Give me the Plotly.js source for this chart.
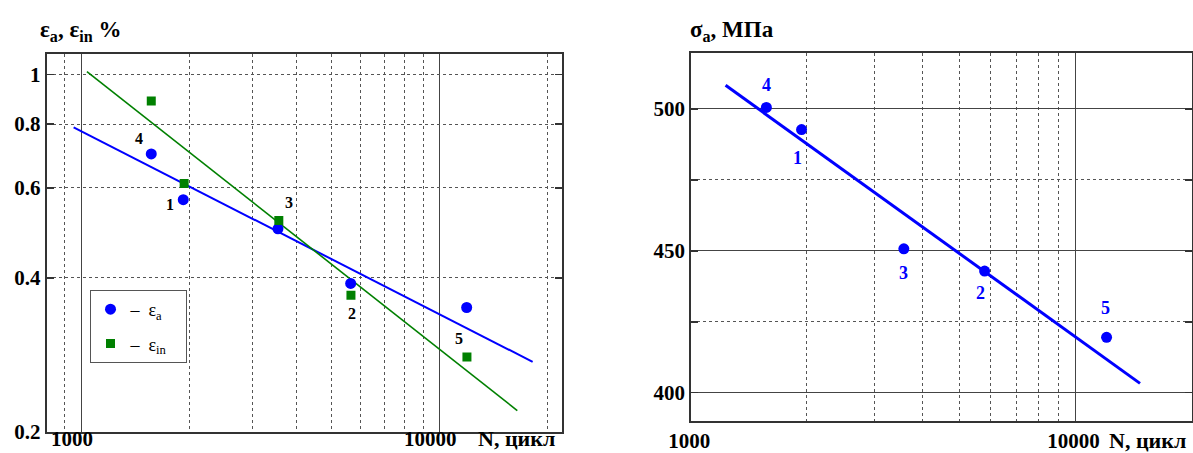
<!DOCTYPE html>
<html>
<head>
<meta charset="utf-8">
<script src="https://cdn.plot.ly/plotly-3.0.1.min.js"></script>
<style>html,body{margin:0;padding:0;background:#fff;}#chart{width:1193px;height:453px;}</style>
</head>
<body>
<div id="chart"></div>
<script>
// ---------- data (left chart: strain amplitude vs cycles) ----------
const pointLabels = ['1', '2', '3', '4', '5'];
const nEpsA = [1926, 5650, 3540, 1568, 11910];
const epsA = [0.569, 0.390, 0.499, 0.699, 0.350];
const nEpsIn = [1937, 5660, 3560, 1568, 11930];
const epsIn = [0.612, 0.370, 0.518, 0.887, 0.280];
const fitEpsAN = [952, 18200];
const fitEpsA = [0.788, 0.274];
const fitEpsInN = [1037, 16490];
const fitEpsIn = [1.013, 0.220];

// ---------- data (right chart: stress amplitude vs cycles) ----------
const nSigma = [1936, 5797, 3573, 1568, 12040];
const sigmaA = [492.7, 442.85, 450.7, 500.5, 419.5];
const fitSigmaN = [1228, 14710];
const fitSigma = [508.3, 403.3];

// ---------- tick labels ----------
const xTickVals = [1000, 10000];
const xTickText = ['1000', '10000'];
const xMinorLeft = [900, 2000, 3000, 4000, 5000, 6000, 7000, 8000, 9000, 20000];
const xMinorRight = [2000, 3000, 4000, 5000, 6000, 7000, 8000, 9000];
const yTickValsLeft = [0.2, 0.4, 0.6, 0.8, 1];
const yTickTextLeft = ['0.2', '0.4', '0.6', '0.8', '1'];
const yTickValsRight = [400, 450, 500];
const yTickTextRight = ['400', '450', '500'];
const yMinorRight = [425, 475];

// ---------- styling (label offsets in px) ----------
const leftLabelShift = [[-13, -4.6], [1.3, -30], [10.7, 26.7], [-12, 15], [-7.4, -30.7]];
const rightLabelShift = [[-4.3, -28.4], [-3.6, -22.3], [-0.8, -24], [0, 22.3], [-1.3, 29.6]];

const W = 1193, H = 453;
const SERIF = 'Liberation Serif, Times New Roman, serif';
const BLUE = '#0000ff', GREEN = '#008000';
const tickFont = {family: SERIF, size: 21, color: '#000', weight: 'bold'};
const px = v => v / W, py = v => 1 - v / H;

const traces = [
  {x: fitEpsAN, y: fitEpsA, xaxis: 'x', yaxis: 'y', mode: 'lines', line: {color: BLUE, width: 2}, showlegend: false, hoverinfo: 'skip'},
  {x: fitEpsInN, y: fitEpsIn, xaxis: 'x', yaxis: 'y', mode: 'lines', line: {color: GREEN, width: 1.6}, showlegend: false, hoverinfo: 'skip'},
  {x: nEpsA, y: epsA, xaxis: 'x', yaxis: 'y', mode: 'markers', name: '–  ε<sub>a</sub>\u00a0\u00a0\u00a0', legendgroup: 'a',
   marker: {symbol: 'circle', size: 11, color: BLUE}},
  {x: nEpsIn, y: epsIn, xaxis: 'x', yaxis: 'y', mode: 'markers', name: '–  ε<sub>in</sub>\u00a0\u00a0\u00a0', legendgroup: 'b',
   marker: {symbol: 'square', size: 9, color: GREEN}},
  {x: fitSigmaN, y: fitSigma, xaxis: 'x2', yaxis: 'y2', mode: 'lines', line: {color: BLUE, width: 3}, showlegend: false, hoverinfo: 'skip'},
  {x: nSigma, y: sigmaA, xaxis: 'x2', yaxis: 'y2', mode: 'markers', showlegend: false,
   marker: {symbol: 'circle', size: 11, color: BLUE}}
];

const annotations = [];
pointLabels.forEach((t, i) => {
  annotations.push({xref: 'x', yref: 'y', x: Math.log10(nEpsA[i]), y: Math.log10(epsA[i]), text: '<b>' + t + '</b>',
    showarrow: false, xshift: leftLabelShift[i][0], yshift: leftLabelShift[i][1],
    font: {family: SERIF, size: 16, color: '#000'}});
  annotations.push({xref: 'x2', yref: 'y2', x: Math.log10(nSigma[i]), y: sigmaA[i], text: '<b>' + t + '</b>',
    showarrow: false, xshift: rightLabelShift[i][0], yshift: rightLabelShift[i][1],
    font: {family: SERIF, size: 18, color: BLUE}});
});
// left x tick labels (placed flush with the bottom edge so they are not clipped)
xTickVals.forEach((v, i) => {
  annotations.push({xref: 'x', yref: 'paper', x: Math.log10(v), y: 0, yanchor: 'bottom', xanchor: 'center', xshift: -9,
    showarrow: false, text: xTickText[i], font: tickFont});
});
annotations.push(
  {xref: 'paper', yref: 'paper', x: px(38), y: py(31), xanchor: 'left', yanchor: 'middle', showarrow: false,
   text: '<b>ε<sub>a</sub>, ε<sub>in</sub> %</b>', font: {family: SERIF, size: 23, color: '#000'}},
  {xref: 'paper', yref: 'paper', x: px(688), y: py(31), xanchor: 'left', yanchor: 'middle', showarrow: false,
   text: '<b>σ<sub>a</sub>, МПа</b>', font: {family: SERIF, size: 23, color: '#000'}},
  {xref: 'paper', yref: 'paper', x: px(516), y: 0, xanchor: 'center', yanchor: 'bottom', showarrow: false,
   text: '<b>N, цикл</b>', font: {family: SERIF, size: 22, color: '#000'}},
  {xref: 'paper', yref: 'paper', x: px(1147), y: py(440), xanchor: 'center', yanchor: 'middle', showarrow: false,
   text: '<b>N, цикл</b>', font: {family: SERIF, size: 22, color: '#000'}}
);

const frame = {showline: true, mirror: true, linecolor: '#333', linewidth: 2, zeroline: false, tickfont: tickFont};
const dotGrid = {showgrid: true, griddash: 'dot', gridcolor: '#555', gridwidth: 1};

const layout = {
  width: W, height: H, margin: {l: 0, r: 0, t: 0, b: 0},
  paper_bgcolor: '#fff', plot_bgcolor: '#fff',
  showlegend: true,
  legend: {x: px(89.5), y: py(290), xanchor: 'left', yanchor: 'top', bgcolor: '#fff', bordercolor: '#555', borderwidth: 1,
    font: {family: SERIF, size: 18, color: '#000'}, traceorder: 'grouped', tracegroupgap: 8},
  xaxis: Object.assign({}, frame, {type: 'log', domain: [px(46.7), px(561.7)], range: [2.9034, 4.3412], anchor: 'y',
    tickmode: 'array', tickvals: xTickVals, ticktext: xTickText, ticks: '', showticklabels: false,
    showgrid: true, gridcolor: '#444', gridwidth: 1,
    minor: Object.assign({tickmode: 'array', tickvals: xMinorLeft, ticks: ''}, dotGrid)}),
  yaxis: Object.assign({}, frame, dotGrid, {type: 'log', domain: [1 - 431.7 / H, 1 - 54 / H], range: [Math.log10(0.2), 0.0401], anchor: 'x',
    tickmode: 'array', tickvals: yTickValsLeft, ticktext: yTickTextLeft, ticks: 'inside', ticklen: 7, tickwidth: 1.5, tickcolor: '#333',
    mirror: 'ticks'}),
  yaxis3: {type: 'log', overlaying: 'y', anchor: 'x', range: [Math.log10(0.2), 0.0401], tickmode: 'array', tickvals: [1],
    showticklabels: false, ticks: '', showline: false, zeroline: false, showgrid: true, gridcolor: '#333', gridwidth: 1},
  xaxis2: Object.assign({}, frame, {type: 'log', domain: [px(691.3), px(1192)], range: [3, 4.3029], anchor: 'y2',
    tickmode: 'array', tickvals: xTickVals, ticktext: xTickText, ticks: '', ticklabelshift: -2,
    showgrid: true, gridcolor: '#444', gridwidth: 1,
    minor: Object.assign({tickmode: 'array', tickvals: xMinorRight, ticks: ''}, dotGrid)}),
  yaxis2: Object.assign({}, frame, {domain: [1 - 420.7 / H, 1 - 52.7 / H], range: [390.14, 519.8], anchor: 'x2',
    tickmode: 'array', tickvals: yTickValsRight, ticktext: yTickTextRight, ticks: 'inside', ticklen: 7, tickwidth: 1.5, tickcolor: '#333',
    mirror: 'ticks', showgrid: true, gridcolor: '#444', gridwidth: 1,
    minor: Object.assign({tickmode: 'array', tickvals: yMinorRight, ticks: 'inside', ticklen: 7, tickcolor: '#333'}, dotGrid)}),
  annotations: annotations
};

Plotly.newPlot('chart', traces, layout, {staticPlot: true, displayModeBar: false});
</script>
</body>
</html>
